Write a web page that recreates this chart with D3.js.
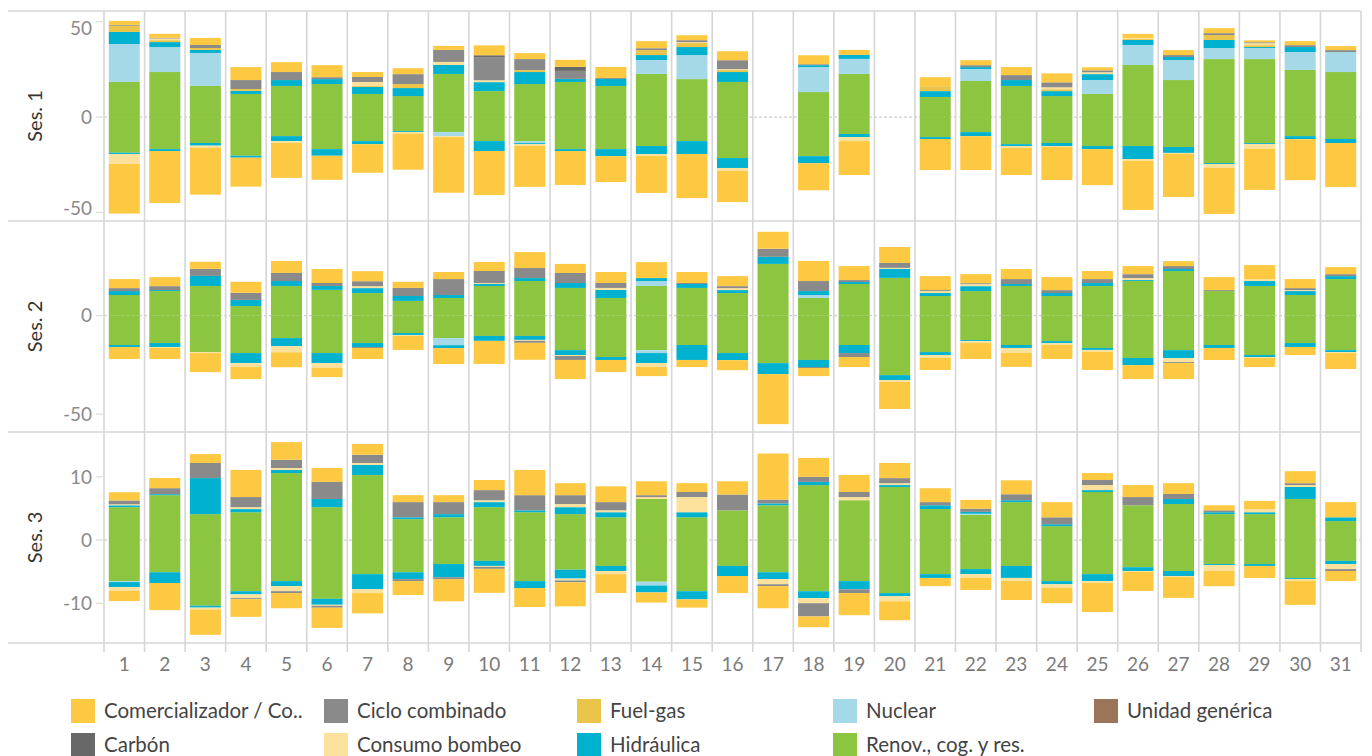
<!DOCTYPE html>
<html>
<head>
<meta charset="utf-8">
<script src="https://cdn.jsdelivr.net/npm/d3@7"></script>
<style>
  body { margin: 0; background: #fff; }
  text { font-family: Lato, "Open Sans", sans-serif; }
</style>
</head>
<body>
<div id="chart"></div>
<script>
// Days on the x axis
var days = [1,2,3,4,5,6,7,8,9,10,11,12,13,14,15,16,17,18,19,20,21,22,23,24,25,26,27,28,29,30,31];

// Categories (stack order: first = nearest zero)
var catKeys   = ['unidad','renov','nuclear','hidr','fuel','consumo','ciclo','carbon','comer'];
var catLabels = ['Unidad genérica','Renov., cog. y res.','Nuclear','Hidráulica','Fuel-gas','Consumo bombeo','Ciclo combinado','Carbón','Comercializador / Co..'];
var catColors = ['#9b755a','#8cc53f','#a5d9e7','#00b2d0','#eac54a','#fbe19c','#8a8a8a','#686868','#fdc942'];
// legend order as shown (row by row)
var legendOrder = ['comer','ciclo','fuel','nuclear','unidad','carbon','consumo','hidr','renov'];

var zero31 = [0,0,0,0,0,0,0,0,0,0,0,0,0,0,0,0,0,0,0,0,0,0,0,0,0,0,0,0,0,0,0];

// ---- Ses. 1 ----
var s1RenovPos   = [18.4,23.6,16.3,12.1,16.3,17.3,12.1,11.0,22.6,13.6,17.3,18.4,16.3,22.6,19.9,18.4,0,13.1,22.6,0,10.5,18.9,16.3,11.0,12.1,27.3,19.4,30.4,30.4,24.7,23.6];
var s1NuclearPos = [19.9,13.1,17.3,0,0,0,0,0,0,0,0,0,0,7.3,12.6,0,0,13.1,7.9,0,0,6.3,0,0,7.3,10.5,10.5,5.8,5.8,9.4,10.5];
var s1HidrPos    = [6.3,2.6,1.6,1.6,3.1,2.6,3.7,4.2,4.7,4.7,6.3,1.6,3.7,2.6,4.2,5.2,0,1.0,2.1,0,3.1,1.0,3.1,2.6,3.1,2.6,1.6,4.2,0.5,2.6,0];
var s1FuelPos    = [3.3,1.0,1.0,1.0,0,0,0.5,2.1,0,0,1.0,0,0,2.6,2.1,1.0,0,0,0,0,2.6,0,0,1.0,0,0.5,0,2.6,1.0,0,0];
var s1ConsumoPos = [0,0.9,0,0,0,0,2.1,0,1.6,1.0,0,0,0,0,0.5,0.5,0,0,0,0,0,0,0,1.0,1.0,0.6,0,0,1.0,0,0];
var s1CicloPos   = [0.4,0.35,1.6,4.7,4.2,1.0,2.6,5.2,6.3,12.1,5.8,4.2,0.5,1.0,1.0,4.7,0,0.5,0,0,0,1.0,2.6,2.6,1.0,0,1.0,1.0,0.5,1.0,1.0];
var s1CarbonPos  = [0,0,0,0,0,0,0,0,0,1.0,0,2.1,0,0,0,0,0,0,0,0,0,0,0,0,0,0,0,0,0,0,0];
var s1ComerPos   = [2.1,2.1,3.7,6.8,5.2,6.3,2.6,3.1,2.1,5.2,3.1,3.7,5.8,3.7,2.6,4.7,0,4.7,2.6,0,4.7,2.6,4.2,4.7,1.6,2.1,2.6,2.6,1.0,2.1,2.1];

var s1RenovNeg   = [-18.7,-16.8,-13.6,-20.3,-10.0,-16.8,-12.6,-7.3,-7.9,-12.6,-12.6,-16.8,-16.8,-15.2,-12.6,-21.5,0,-20.5,-8.9,0,-10.5,-7.9,-14.2,-13.6,-15.2,-15.2,-15.7,-24.1,-13.6,-10.0,-11.5];
var s1NuclearNeg = [0,0,0,0,0,0,0,0,-2.1,0,-1.0,0,0,0,0,0,0,0,0,0,0,0,0,0,0,0,0,0,0,0,0];
var s1HidrNeg    = [-0.7,-1.0,-1.4,-1.0,-2.6,-3.5,-1.6,-0.5,0,-5.2,-0.5,-1.0,-3.7,-4.2,-6.8,-5.2,0,-3.7,-1.6,0,-1.0,-2.1,-1.0,-1.6,-1.6,-6.8,-3.1,-0.5,-0.5,-1.6,-2.1];
var s1ConsumoNeg = [-5.2,0,-1.0,0,-0.9,0,0,-0.9,-0.5,0,-1.0,0,0,-1.0,0,-1.6,0,0,-2.1,0,0,0,-1.0,-0.5,0,-1.0,-0.5,-2.1,-2.6,0,0];
var s1ComerNeg   = [-26.0,-27.3,-24.7,-15.2,-18.4,-12.6,-15.0,-18.9,-29.2,-23.1,-21.5,-17.8,-13.6,-19.4,-23.1,-16.3,0,-14.2,-17.8,0,-16.3,-17.8,-14.2,-17.3,-18.9,-25.7,-22.6,-24.1,-21.5,-21.5,-23.1];

// ---- Ses. 2 ----
var s2RenovPos   = [10.5,12.5,15.1,4.9,15.1,13.1,11.5,7.5,9.0,15.1,17.6,14.1,9.0,15.1,14.1,11.5,26.3,9.0,16.1,19.2,10.0,12.5,15.1,10.0,15.1,17.6,22.7,12.5,15.1,10.5,18.6];
var s2NuclearPos = [0,0,0,0,0,0,0,0,0,0,0,0,0,2.5,0,0,0,1.5,0,0,0,0,0,0,0,0,0,0,0,0,0];
var s2HidrPos    = [2.0,0.5,5.1,3.1,2.5,2.0,2.5,2.5,1.5,1.0,1.5,2.5,4.1,1.5,2.0,1.5,3.6,2.0,1.0,4.6,1.5,2.5,1.0,1.5,1.5,0.5,1.0,0,2.5,2.0,1.5];
var s2ConsumoPos = [0,0,0,0,0,0,1.0,0,0,0.5,0,0,1.0,0,0,1.0,0,0,0,0.5,1.0,1.0,0,0,0,1.0,0,0,1.0,0.5,0];
var s2CicloPos   = [1.5,2.0,3.6,3.6,4.1,1.5,2.5,4.1,8.1,6.1,5.1,5.1,2.5,0,0.5,1.0,4.1,5.1,1.0,2.5,0.5,0.5,2.5,1.5,2.0,2.0,1.5,0.5,0,1.0,1.0];
var s2ComerPos   = [4.6,4.6,3.6,5.6,6.1,7.1,5.1,3.1,3.6,4.6,8.1,4.6,5.6,8.1,5.6,5.1,8.6,10.2,7.1,8.1,7.1,4.6,5.1,6.6,4.1,4.1,2.5,6.6,7.1,4.6,3.6];

var s2RenovNeg   = [-14.9,-13.9,-18.5,-19.0,-11.4,-19.0,-13.9,-8.8,-11.4,-10.3,-10.3,-17.5,-21.0,-17.5,-14.9,-19.0,-24.1,-22.5,-14.9,-30.2,-18.5,-12.4,-14.9,-12.9,-16.4,-21.5,-17.5,-14.9,-20.0,-13.9,-17.5];
var s2NuclearNeg = [0,0,0,0,0,0,0,0,-3.6,0,0,0,0,-1.5,0,0,0,0,0,0,0,0,0,0,0,0,0,0,0,0,0];
var s2HidrNeg    = [-1.0,-2.0,0,-5.1,-4.1,-5.1,-2.0,-1.0,-1.5,-2.5,-2.0,-2.5,-1.5,-5.1,-7.6,-3.6,-5.6,-3.6,-4.1,-2.5,-1.5,-0.5,-1.5,-1.0,-1.0,-3.6,-4.1,-1.5,-1.0,-2.0,-1.0];
var s2ConsumoNeg = [0,-0.5,-0.5,-2.0,-3.1,-2.5,0,-0.5,0,0,-0.5,-0.5,0,-2.0,0,0,0,0,0,-1.0,-1.5,-1.0,-2.5,-1.0,-1.0,0,-2.0,0,-0.5,0,-0.5];
var s2CicloNeg   = [0,0,0,0,0,0,-0.5,0,0,0,-1.0,-2.0,0,0,0,0,0,-0.5,-2.0,0,0,0,0,0,0,0,-0.5,0,0,0,0];
var s2ComerNeg   = [-6.1,-5.6,-9.7,-6.1,-7.6,-4.6,-5.6,-7.1,-8.1,-11.7,-8.6,-9.7,-6.1,-4.6,-3.6,-5.1,-25.4,-4.1,-5.1,-13.7,-6.1,-8.1,-7.1,-7.1,-9.2,-7.1,-8.1,-6.1,-4.6,-4.1,-8.1];

// ---- Ses. 3 ----
var s3RenovPos   = [5.2,7.1,4.1,4.4,10.6,5.2,10.3,3.3,3.6,5.2,4.4,4.1,3.6,6.5,3.6,4.7,5.5,8.7,6.3,8.4,4.9,4.0,6.0,2.2,7.6,5.5,5.7,4.1,4.1,6.5,3.0];
var s3NuclearPos = [0,0,0,0,0,0,0,0,0,0,0,0,0,0,0,0,0,0,0,0,0,0.16,0,0,0,0,0,0,0,0,0];
var s3HidrPos    = [0.3,0.16,5.7,0.5,0.5,1.3,1.6,0.3,0.5,0.8,0.3,1.1,0.8,0,0.8,0,0.3,0.5,0,0.3,0.6,0.3,0.3,0.3,0.3,0,0.8,0.3,0.3,1.9,0.6];
var s3ConsumoPos = [0.16,0,0,0.3,0.3,0,0.3,0,0,0.3,0,0.5,0.3,0.3,2.4,0,0,0,0.5,0.3,0,0,0,0,0.8,0,0,0,0.5,0.3,0];
var s3CicloPos   = [0.6,0.95,2.4,1.6,1.3,2.7,1.3,2.4,1.9,1.6,2.4,1.4,1.3,0.3,0.8,2.5,0.6,0.8,0.8,0.8,0.5,0.5,0.95,1.1,0.8,1.3,0.8,0.3,0,0.3,0];
var s3ComerPos   = [1.3,1.6,1.4,4.3,2.8,2.2,1.7,1.1,1.1,1.6,4.0,1.9,2.5,2.2,1.4,2.1,7.3,3.0,2.7,2.4,2.2,1.4,2.2,2.4,1.1,1.9,1.7,0.8,1.3,1.9,2.4];

var s3RenovNeg   = [-6.5,-5.1,-10.4,-8.1,-6.5,-9.3,-5.4,-5.1,-3.8,-3.3,-6.5,-4.7,-4.1,-6.6,-8.1,-4.1,-5.1,-8.1,-6.5,-8.4,-5.4,-4.6,-4.1,-6.5,-5.4,-4.3,-4.9,-3.8,-3.8,-6.0,-3.3];
var s3NuclearNeg = [-0.16,0,0,0,0,0,0,0,0,0,0,0,0,-0.6,0,0,0,0,0,0,0,0,0,0,0,0,0,0,0,0,0];
var s3HidrNeg    = [-0.8,-1.7,-0.3,-0.5,-0.8,-0.95,-2.4,-1.1,-2.1,-0.8,-1.1,-1.4,-0.8,-1.1,-1.3,-1.6,-1.1,-1.1,-1.3,-0.5,-0.6,-0.8,-1.9,-0.5,-1.1,-0.6,-0.8,-0.16,-0.3,-0.16,-0.5];
var s3ConsumoNeg = [-0.6,0,-0.3,-0.6,-0.8,-0.16,-0.6,0,0,-0.16,0,-0.3,-0.5,0,0,0,-0.8,-0.8,0,-0.8,0,-0.6,-0.5,-0.6,-0.3,-0.16,-0.16,-0.95,0,-0.3,-0.8];
var s3CicloNeg   = [0,0,0,-0.16,-0.3,-0.3,0,-0.3,-0.3,-0.3,0,-0.3,0,0,0,0,-0.3,-2.1,-0.6,0,0,0,0,0,0,0,0,0,0,0,-0.3];
var s3ComerNeg   = [-1.6,-4.3,-4.0,-2.8,-2.4,-3.2,-3.2,-2.2,-3.5,-3.8,-3.0,-3.8,-3.0,-1.6,-1.3,-2.7,-3.5,-1.7,-3.5,-3.0,-1.3,-1.9,-3.0,-2.4,-4.6,-3.0,-3.3,-2.4,-1.9,-3.8,-1.6];

// y ticks per panel
var s1Ticks = [-50, 0, 50];
var s2Ticks = [-50, 0];
var s3Ticks = [-10, 0, 10];

// series per session: key -> [pos, neg]
var sessions = [
  { label: 'Ses. 1', ticks: s1Ticks, top: 11, bottom: 221, domain: [-54.5, 55.6],
    series: { renov: [s1RenovPos, s1RenovNeg], nuclear: [s1NuclearPos, s1NuclearNeg], hidr: [s1HidrPos, s1HidrNeg],
              fuel: [s1FuelPos, zero31], consumo: [s1ConsumoPos, s1ConsumoNeg], ciclo: [s1CicloPos, zero31],
              carbon: [s1CarbonPos, zero31], comer: [s1ComerPos, s1ComerNeg] } },
  { label: 'Ses. 2', ticks: s2Ticks, top: 221, bottom: 432, domain: [-59.1, 48.1],
    series: { renov: [s2RenovPos, s2RenovNeg], nuclear: [s2NuclearPos, s2NuclearNeg], hidr: [s2HidrPos, s2HidrNeg],
              consumo: [s2ConsumoPos, s2ConsumoNeg], ciclo: [s2CicloPos, s2CicloNeg], comer: [s2ComerPos, s2ComerNeg] } },
  { label: 'Ses. 3', ticks: s3Ticks, top: 432, bottom: 643, domain: [-16.3, 17.1],
    series: { renov: [s3RenovPos, s3RenovNeg], nuclear: [s3NuclearPos, s3NuclearNeg], hidr: [s3HidrPos, s3HidrNeg],
              consumo: [s3ConsumoPos, s3ConsumoNeg], ciclo: [s3CicloPos, s3CicloNeg], comer: [s3ComerPos, s3ComerNeg] } }
];

var width = 1372, height = 756;
var plotLeft = 104, plotRight = 1361;
var gridColor = '#d6d6d6';

var svg = d3.select('#chart').append('svg')
  .attr('width', width)
  .attr('height', height);

var x = d3.scaleBand()
  .domain(days)
  .range([plotLeft, plotRight])
  .paddingInner(0.235)
  .paddingOuter(0.1175);

var color = d3.scaleOrdinal().domain(catKeys).range(catColors);

// stack keys: positive and negative part of each category, diverging offset
var stackKeys = [];
catKeys.forEach(function(k) { stackKeys.push(k + '+'); stackKeys.push(k + '-'); });

var stack = d3.stack()
  .keys(stackKeys)
  .offset(d3.stackOffsetDiverging);

var step = x.step();

sessions.forEach(function(s) {
  var y = d3.scaleLinear().domain(s.domain).range([s.bottom, s.top]);

  // build table for this session
  var table = days.map(function(d, i) {
    var row = { day: d };
    catKeys.forEach(function(k) {
      var ser = s.series[k];
      row[k + '+'] = ser ? ser[0][i] : 0;
      row[k + '-'] = ser ? ser[1][i] : 0;
    });
    return row;
  });

  var g = svg.append('g').attr('class', 'panel');

  // zero line
  g.append('line')
    .attr('x1', plotLeft).attr('x2', plotRight)
    .attr('y1', y(0)).attr('y2', y(0))
    .style('stroke', '#cfcfcf')
    .style('stroke-width', 1.2)
    .style('stroke-dasharray', '3,2');

  // bars
  var layers = g.selectAll('.layer')
    .data(stack(table))
    .enter().append('g')
    .attr('class', 'layer')
    .style('fill', function(d) { return color(d.key.slice(0, -1)); });

  layers.selectAll('rect')
    .data(function(d) { return d; })
    .enter().append('rect')
    .attr('x', function(d) { return x(d.data.day); })
    .attr('width', x.bandwidth())
    .attr('y', function(d) { return y(Math.max(d[0], d[1])); })
    .attr('height', function(d) { return Math.abs(y(d[0]) - y(d[1])); });

  // y ticks
  var yAxis = g.append('g');
  s.ticks.forEach(function(t) {
    var ty = y(t);
    yAxis.append('line')
      .attr('x1', plotLeft - 8).attr('x2', plotLeft - 1)
      .attr('y1', ty).attr('y2', ty)
      .style('stroke', gridColor);
    // labels near the pane edge are pushed inside, as Tableau does
    var ly = Math.max(s.top + 17, Math.min(s.bottom - 13, ty));
    yAxis.append('text')
      .attr('x', plotLeft - 12)
      .attr('y', ly)
      .attr('dy', '.35em')
      .style('text-anchor', 'end')
      .style('font-size', '19px')
      .style('fill', '#8a8a8a')
      .text(t);
  });

  // session label
  g.append('text')
    .attr('transform', 'translate(42,' + ((s.top + s.bottom) / 2) + ') rotate(-90)')
    .style('text-anchor', 'middle')
    .style('font-size', '20px')
    .style('fill', '#333')
    .text(s.label);
});

// grid: column dividers
var grid = svg.append('g');
for (var i = 0; i <= days.length; i++) {
  var gx = plotLeft + i * step;
  grid.append('line')
    .attr('x1', gx).attr('x2', gx)
    .attr('y1', 11).attr('y2', 652)
    .style('stroke', gridColor)
    .style('stroke-width', 1.6);
}
// row dividers
[11, 221, 432, 643].forEach(function(ry) {
  grid.append('line')
    .attr('x1', 8).attr('x2', plotRight)
    .attr('y1', ry).attr('y2', ry)
    .style('stroke', gridColor)
    .style('stroke-width', 1.6);
});

// x labels
svg.append('g').selectAll('text')
  .data(days)
  .enter().append('text')
  .attr('x', function(d) { return x(d) + x.bandwidth() / 2; })
  .attr('y', 671)
  .style('text-anchor', 'middle')
  .style('font-size', '19px')
  .style('fill', '#7a7a7a')
  .text(function(d) { return d; });

// legend
var legendX = [71, 324, 577, 833, 1094];
var legendY = [699, 733];
var legend = svg.append('g');
legendOrder.forEach(function(k, i) {
  var col = i % 5, row = Math.floor(i / 5);
  var lg = legend.append('g')
    .attr('transform', 'translate(' + legendX[col] + ',' + legendY[row] + ')');
  lg.append('rect')
    .attr('width', 24).attr('height', 24)
    .style('fill', color(k));
  lg.append('text')
    .attr('x', 33).attr('y', 12)
    .attr('dy', '.35em')
    .style('font-size', '20.5px')
    .style('fill', '#444')
    .text(catLabels[catKeys.indexOf(k)]);
});
</script>
</body>
</html>
